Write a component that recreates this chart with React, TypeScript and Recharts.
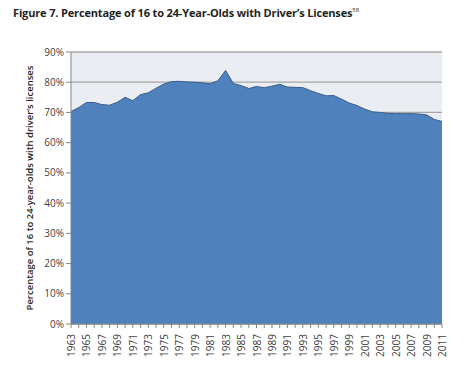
import React from "react"
import { AreaChart, Area, XAxis, YAxis, CartesianGrid } from "recharts"

const years = [
  1963, 1964, 1965, 1966, 1967, 1968, 1969, 1970, 1971, 1972, 1973, 1974, 1975, 1976, 1977, 1978, 1979,
  1980, 1981, 1982, 1983, 1984, 1985, 1986, 1987, 1988, 1989, 1990, 1991, 1992, 1993, 1994, 1995, 1996,
  1997, 1998, 1999, 2000, 2001, 2002, 2003, 2004, 2005, 2006, 2007, 2008, 2009, 2010, 2011,
]

const licensed = [
  70.3, 71.6, 73.3, 73.3, 72.6, 72.4, 73.4, 75.0, 73.9, 75.9, 76.5, 78.0, 79.4, 80.2, 80.3, 80.1, 80.0,
  79.8, 79.5, 80.5, 83.9, 79.6, 78.9, 77.9, 78.6, 78.2, 78.7, 79.3, 78.4, 78.3, 78.2, 77.2, 76.3, 75.5,
  75.6, 74.4, 73.1, 72.3, 71.1, 70.2, 70.0, 69.7, 69.6, 69.6, 69.6, 69.5, 69.2, 67.7, 67.0,
]

const yTicks = [0, 10, 20, 30, 40, 50, 60, 70, 80, 90]

const data = years.map((year, i) => ({ year, value: licensed[i] }))

const XTick = ({ x, y, payload, index }: any) => {
  if (index % 2 !== 0) return null
  return (
    <text
      x={x}
      y={y + 4}
      transform={`rotate(-90, ${x}, ${y + 4})`}
      textAnchor="end"
      dominantBaseline="central"
      fontSize={10}
      fill="#404040"
      fontFamily="'Open Sans', sans-serif"
    >
      {payload.value}
    </text>
  )
}

export default function App() {
  return (
    <div style={{ position: "absolute", left: 0, top: 0, width: 472, height: 383, background: "#fff" }}>
      <div
        style={{
          position: "absolute",
          left: 13,
          top: 5,
          fontFamily: "'Open Sans', sans-serif",
          fontWeight: 700,
          fontSize: 11,
          color: "#231f20",
          whiteSpace: "nowrap",
          letterSpacing: -0.15,
        }}
      >
        Figure 7. Percentage of 16 to 24-Year-Olds with Driver’s Licenses
        <sup style={{ fontSize: 6, fontWeight: 400 }}>58</sup>
      </div>
      <AreaChart
        width={472}
        height={383}
        data={data}
        margin={{ top: 52, right: 30, bottom: 0, left: 0 }}
      >
        <CartesianGrid
          vertical={false}
          stroke="#a6a6a6"
          strokeWidth={1.3}
          fill="#eaedf2"
          fillOpacity={1}
          horizontalValues={yTicks}
        />
        <XAxis
          dataKey="year"
          type="number"
          domain={[1963, 2011]}
          ticks={years}
          interval={0}
          height={59}
          tick={<XTick />}
          tickLine={{ stroke: "#868686" }}
          tickSize={4}
          axisLine={{ stroke: "#868686" }}
        />
        <YAxis
          width={71}
          domain={[0, 90]}
          ticks={yTicks}
          interval={0}
          tickFormatter={(v: number) => `${v}%`}
          tick={{ fontSize: 10, fill: "#404040", fontFamily: "'Open Sans', sans-serif" }}
          tickLine={{ stroke: "#868686" }}
          tickSize={5}
          axisLine={{ stroke: "#868686" }}
          label={{
            value: "Percentage of 16 to 24-year-olds with driver’s licenses",
            angle: -90,
            position: "insideLeft",
            offset: 30,
            style: {
              textAnchor: "middle",
              fontSize: 9.5,
              fontWeight: 600,
              fill: "#262626",
              fontFamily: "'Open Sans', sans-serif",
            },
          }}
        />
        <Area
          dataKey="value"
          type="linear"
          stroke="#385d8a"
          strokeWidth={1}
          fill="#4f81bd"
          fillOpacity={1}
          isAnimationActive={false}
        />
      </AreaChart>
    </div>
  )
}
